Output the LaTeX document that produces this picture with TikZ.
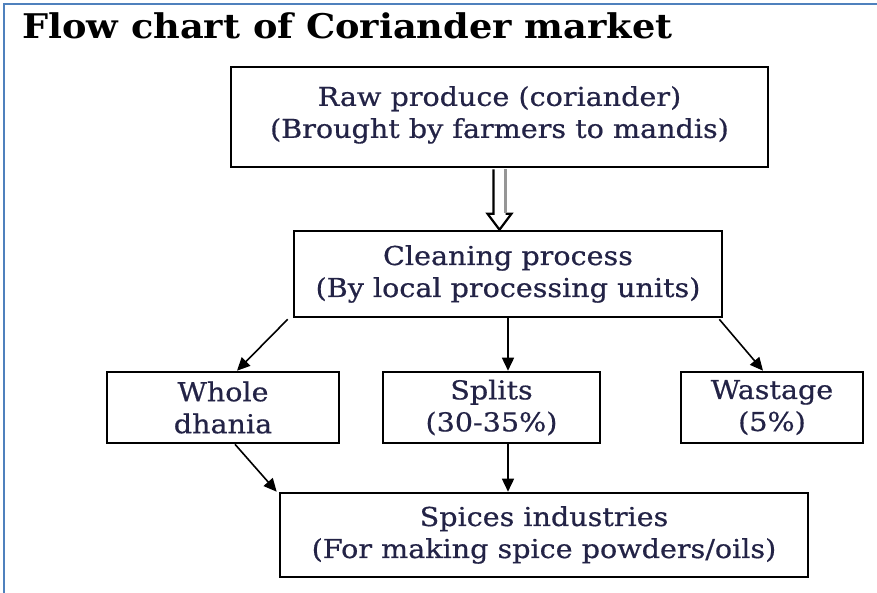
\documentclass[tikz,border=0pt]{standalone}
\usepackage{fontspec}
\setmainfont{DejaVu Serif}[FakeStretch=1.1,FakeBold=0.6]
\newfontfamily\titlefont{DejaVu Serif}[FakeStretch=1.08]
\usetikzlibrary{arrows.meta,calc}
\definecolor{framecol}{RGB}{79,129,189}
\definecolor{txtcol}{RGB}{35,35,70}
\definecolor{shadegray}{RGB}{150,150,150}
\tikzset{
  box/.style={draw=black, line width=2.6pt, fill=white, align=center, text=txtcol,
    font=\fontsize{26}{32}\selectfont, inner sep=0pt},
  conn/.style={draw=black, line width=1.6pt, -{Triangle[length=13pt,width=12pt]}},
  frameline/.style={draw=framecol, line width=2.4pt},
}
\begin{document}
\begin{tikzpicture}[x=1pt,y=-1pt]
\useasboundingbox (0,0) rectangle (877,593);
\fill[white] (0,0) rectangle (877,593);
\draw[frameline] (4,593) -- (4,4) -- (877,4);
\node[anchor=base west, font=\titlefont\bfseries\fontsize{34}{38}\selectfont, text=black, inner sep=0pt] (title) at (22,39) {Flow chart of Coriander market};

\node[box, minimum width=537pt, minimum height=100pt] (raw) at (499.5,117) {Raw produce (coriander)\\(Brought by farmers to mandis)\\[-22pt]};
\node[box, minimum width=428pt, minimum height=86pt] (clean) at (508,274) {Cleaning process\\(By local processing units)};
\node[box, minimum width=232pt, minimum height=71pt] (whole) at (223,407.5) {Whole\\dhania};
\node[box, minimum width=217pt, minimum height=71pt] (splits) at (491.5,407.5) {Splits\\(30-35\%)};
\node[box, minimum width=182pt, minimum height=71pt] (waste) at (772,407.5) {Wastage\\(5\%)};
\node[box, minimum width=528pt, minimum height=84pt] (spices) at (544,535) {Spices industries\\(For making spice powders/oils)};

% hollow arrow raw -> clean
\coordinate (tipc) at (raw.south |- clean.north);
\fill[white] ($(raw.south)+(-6,0)$) -- ($(tipc)+(-6,-16)$) -- ($(tipc)+(-12,-16)$) -- (tipc) -- ($(tipc)+(12,-16)$) -- ($(tipc)+(6,-16)$) -- ($(raw.south)+(6,0)$) -- cycle;
\draw[black, line width=2.2pt, line join=miter] ($(raw.south)+(-6,1)$) -- ($(tipc)+(-6,-16)$) -- ($(tipc)+(-12,-16)$) -- (tipc) -- ($(tipc)+(12,-16)$) -- ($(tipc)+(6,-16)$);
\draw[shadegray, line width=2.8pt] ($(raw.south)+(6,1)$) -- ($(tipc)+(6,-17)$);

% connectors
\draw[conn] ($(clean.south west)+(-5,1)$) -- ($(whole.north)+(14,0)$);
\draw[conn] (clean.south) -- (clean.south |- splits.north);
\draw[conn] ($(clean.south east)+(-4,1)$) -- ($(waste.north)+(-9,0)$);
\draw[conn] ($(whole.south)+(12,0)$) -- ($(spices.north west)+(-2,0)$);
\draw[conn] (clean.south |- splits.south) -- (clean.south |- spices.north);
\end{tikzpicture}
\end{document}
